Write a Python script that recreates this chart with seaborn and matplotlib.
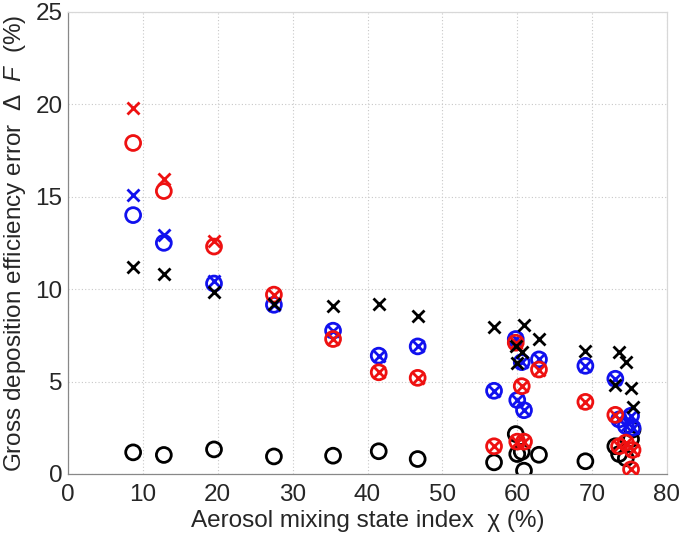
import matplotlib
matplotlib.use("Agg")
import matplotlib.pyplot as plt
import seaborn as sns
import pandas as pd

# Aerosol mixing state index chi (%) for each case
chi = [8.7, 12.8, 19.5, 27.5, 35.4, 41.5, 46.7, 56.9, 59.8, 60.0, 60.6, 60.9, 62.9,
       69.1, 73.1, 73.6, 74.5, 75.2, 75.4]
# Gross deposition efficiency error (%)
red_x = [19.8, 15.95, 12.6, 9.7, 7.3, 5.5, 5.2, 1.5, 7.1, 1.75, 4.75, 1.75, 5.65,
         3.9, 3.2, 1.5, 1.7, 0.25, 1.3]
red_o = [17.9, 15.3, 12.3, 9.7, 7.3, 5.5, 5.2, 1.5, 7.1, 1.75, 4.75, 1.75, 5.65,
         3.9, 3.2, 1.5, 1.7, 0.25, 1.3]
blue_x = [15.1, 12.9, 10.45, 9.15, 7.75, 6.4, 6.9, 4.5, 7.3, 4.0, 6.05, 3.45, 6.2,
          5.85, 5.15, 2.95, 2.6, 3.15, 2.5]
blue_o = [14.0, 12.5, 10.3, 9.15, 7.75, 6.4, 6.9, 4.5, 7.3, 4.0, 6.05, 3.45, 6.2,
          5.85, 5.15, 2.95, 2.6, 3.15, 2.5]
black_x = [11.2, 10.8, 9.85, 9.2, 9.1, 9.2, 8.55, 7.95, 6.9, 6.0, 6.6, 8.05, 7.3,
           6.65, 4.8, 6.6, 6.05, 4.65, 3.6]
black_o = [1.17, 1.03, 1.33, 0.95, 0.99, 1.23, 0.81, 0.63, 2.16, 1.08, 1.2, 0.18, 1.04,
           0.69, 1.5, 1.08, 0.85, 1.89, 2.4]

x_ticks = [0, 10, 20, 30, 40, 50, 60, 70, 80]
y_ticks = [0, 5, 10, 15, 20, 25]

sns.set_style("white")
plt.rcParams['font.family'] = ['Liberation Sans', 'DejaVu Sans']
plt.rcParams['mathtext.fontset'] = 'custom'
plt.rcParams['mathtext.rm'] = 'Liberation Sans'
plt.rcParams['mathtext.it'] = 'Liberation Sans:italic'

fig = plt.figure(figsize=(6.85, 5.48), dpi=100)
ax = fig.add_axes([68 / 685, 1 - 474 / 548, (667 - 68) / 685, (474 - 11.7) / 548])

df = pd.DataFrame({"chi": chi, "red_x": red_x, "red_o": red_o, "blue_x": blue_x,
                   "blue_o": blue_o, "black_x": black_x, "black_o": black_o})

RED = "#ee1111"
BLUE = "#1111ee"
BLACK = "#000000"

circ = dict(marker="o", s=115, facecolors="none", linewidth=2.0, zorder=3)
cross = dict(marker="x", s=75, linewidth=2.0, zorder=3)

sns.scatterplot(data=df, x="chi", y="black_o", edgecolor=BLACK, ax=ax, **circ)
sns.scatterplot(data=df, x="chi", y="blue_o", edgecolor=BLUE, ax=ax, **circ)
sns.scatterplot(data=df, x="chi", y="blue_x", color=BLUE, ax=ax, **cross)
sns.scatterplot(data=df, x="chi", y="red_o", edgecolor=RED, ax=ax, **circ)
sns.scatterplot(data=df, x="chi", y="red_x", color=RED, ax=ax, **cross)
sns.scatterplot(data=df, x="chi", y="black_x", color=BLACK, ax=ax, **cross)

ax.set_xlim(0, 80)
ax.set_ylim(0, 25)
ax.set_xticks(x_ticks)
ax.set_yticks(y_ticks)
ax.set_xticklabels([str(t) for t in x_ticks], fontsize=17.5)
ax.set_yticklabels([str(t) for t in y_ticks], fontsize=17.5)
ax.tick_params(axis="x", direction="in", length=5, width=0.8, color="#888888", pad=7)
ax.tick_params(axis="y", direction="in", length=5, width=0.8, color="#888888", pad=4)
ax.grid(True, linestyle=(0, (1, 2)), color="#c8c8c8", linewidth=0.8)
ax.set_axisbelow(True)
for side in ["left", "bottom"]:
    ax.spines[side].set_color("#888888")
    ax.spines[side].set_linewidth(0.9)
for side in ["top", "right"]:
    ax.spines[side].set_color("#d8d8d8")
    ax.spines[side].set_linewidth(0.9)

ax.set_xlabel("Aerosol mixing state index  χ (%)", fontsize=17.5, labelpad=3)
ax.set_ylabel(r"Gross deposition efficiency error  Δ  $\it{F}$  (%)", fontsize=17.5,
              labelpad=5)

fig.savefig("out.png", dpi=100)
